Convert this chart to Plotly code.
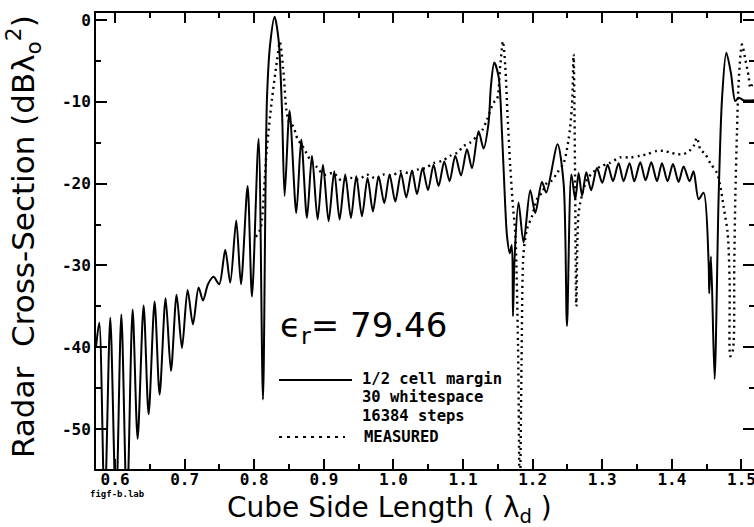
import plotly.graph_objects as go

# ---- data ----
sim_x = [0.5726, 0.5773, 0.5850, 0.5931, 0.6013, 0.6090, 0.6170, 0.6252, 0.6324, 0.6410,
         0.6482, 0.6568, 0.6640, 0.6726, 0.6803, 0.6884, 0.6961, 0.7042, 0.7119, 0.7200,
         0.7263, 0.7335, 0.7415, 0.7497, 0.7583, 0.7655, 0.7741, 0.7809, 0.7904, 0.7967,
         0.8062, 0.8125, 0.8182, 0.8230, 0.8292, 0.8349, 0.8398, 0.8436, 0.8507, 0.8604,
         0.8675, 0.8757, 0.8829, 0.8910, 0.8987, 0.9068, 0.9149, 0.9226, 0.9307, 0.9389,
         0.9466, 0.9547, 0.9628, 0.9705, 0.9786, 0.9868, 0.9944, 1.0026, 1.0108, 1.0184,
         1.0266, 1.0338, 1.0418, 1.0496, 1.0576, 1.0648, 1.0730, 1.0806, 1.0888, 1.0970,
         1.1056, 1.1128, 1.1223, 1.1294, 1.1366, 1.1400, 1.1448, 1.1510, 1.1559, 1.1606,
         1.1631, 1.1670, 1.1700, 1.1717, 1.1740, 1.1797, 1.1869, 1.1965, 1.2037, 1.2133,
         1.2195, 1.2358, 1.2445, 1.2493, 1.2556, 1.2612, 1.2660, 1.2710, 1.2770, 1.2840,
         1.2924, 1.3000, 1.3077, 1.3154, 1.3234, 1.3306, 1.3392, 1.3460, 1.3546, 1.3622,
         1.3704, 1.3786, 1.3858, 1.3938, 1.4016, 1.4096, 1.4168, 1.4254, 1.4312, 1.4384,
         1.4456, 1.4528, 1.4537, 1.4562, 1.4614, 1.4671, 1.4720, 1.4782, 1.4849, 1.4911,
         1.4959, 1.5030, 1.5190]
sim_y = [-40.0, -37.0, -60.0, -36.4, -60.0, -36.0, -60.0, -35.4, -51.2, -34.9,
         -48.2, -34.4, -45.8, -34.0, -42.9, -33.6, -40.1, -33.0, -37.2, -32.7,
         -34.3, -32.3, -31.4, -32.3, -28.1, -32.1, -24.5, -32.3, -20.3, -33.8,
         -14.5, -46.4, -9.7, -2.8, 0.4, -2.4, -10.9, -21.5, -11.1, -23.6,
         -14.6, -24.2, -16.6, -24.4, -17.7, -24.6, -18.5, -24.4, -18.9, -24.2,
         -19.1, -24.0, -19.3, -23.4, -19.1, -22.4, -18.9, -22.2, -18.7, -21.7,
         -18.4, -21.3, -18.1, -20.8, -17.7, -20.3, -17.3, -19.7, -16.6, -19.0,
         -15.8, -18.1, -13.6, -15.7, -12.6, -8.1, -5.2, -6.9, -13.8, -22.8,
         -26.4, -28.5, -27.5, -36.2, -29.0, -22.3, -27.2, -20.8, -23.6, -19.8,
         -21.1, -15.2, -20.0, -37.4, -18.9, -21.9, -18.7, -21.5, -18.6, -20.8,
         -18.1, -19.9, -17.7, -19.7, -17.5, -19.7, -17.5, -19.7, -17.4, -19.6,
         -17.4, -19.7, -17.5, -19.7, -17.6, -19.8, -17.9, -19.7, -18.5, -21.9,
         -21.1, -29.7, -33.4, -28.9, -43.9, -21.9, -9.7, -4.0, -6.5, -9.9,
         -9.5, -9.8, -9.8]

meas_x = [0.8020, 0.8086, 0.8110, 0.8180, 0.8254, 0.8326, 0.8368, 0.8421, 0.8460, 0.8500,
          0.8560, 0.8620, 0.8700, 0.8805, 0.8900, 0.9000, 0.9140, 0.9250, 0.9380, 0.9500,
          0.9620, 0.9750, 0.9855, 0.9980, 1.0098, 1.0220, 1.0338, 1.0460, 1.0576, 1.0700,
          1.0816, 1.0920, 1.1007, 1.1100, 1.1200, 1.1280, 1.1343, 1.1440, 1.1487, 1.1534,
          1.1573, 1.1606, 1.1640, 1.1678, 1.1717, 1.1750, 1.1790, 1.1815, 1.1840, 1.1869,
          1.1920, 1.1990, 1.2062, 1.2140, 1.2205, 1.2280, 1.2349, 1.2444, 1.2516, 1.2565,
          1.2588, 1.2610, 1.2627, 1.2660, 1.2720, 1.2780, 1.2870, 1.2971, 1.3100, 1.3258,
          1.3400, 1.3546, 1.3642, 1.3786, 1.3880, 1.3977, 1.4080, 1.4168, 1.4250, 1.4312,
          1.4360, 1.4408, 1.4480, 1.4552, 1.4648, 1.4696, 1.4743, 1.4801, 1.4830, 1.4840,
          1.4878, 1.4896, 1.4911, 1.4935, 1.4959, 1.5007, 1.5055, 1.5103, 1.5127, 1.5170]
meas_y = [-26.5, -25.6, -24.4, -15.8, -9.7, -5.0, -2.7, -6.5, -10.9, -12.5,
          -13.0, -14.5, -15.5, -17.1, -18.0, -18.9, -18.7, -19.6, -19.3, -19.5,
          -18.9, -19.4, -18.9, -19.0, -18.5, -18.7, -18.3, -18.1, -17.5, -17.2,
          -16.6, -16.2, -15.4, -15.0, -14.2, -13.4, -12.2, -10.1, -9.7, -5.6,
          -2.6, -5.6, -11.8, -17.9, -22.8, -26.0, -40.0, -60.0, -42.0, -28.5,
          -25.5, -24.0, -21.9, -21.0, -19.9, -19.6, -18.7, -17.5, -14.6, -10.5,
          -4.2, -20.0, -35.0, -23.6, -21.0, -19.5, -18.6, -17.9, -17.5, -16.8,
          -16.8, -16.6, -16.4, -16.0, -16.0, -16.2, -16.4, -16.4, -16.0, -15.4,
          -14.4, -15.8, -16.4, -17.5, -18.7, -20.3, -22.8, -26.0, -32.1, -41.1,
          -40.3, -30.1, -21.9, -13.8, -7.7, -3.0, -4.8, -6.9, -8.3, -7.5]

x_ticks = [0.6, 0.7, 0.8, 0.9, 1.0, 1.1, 1.2, 1.3, 1.4, 1.5]
x_ticktext = ["0.6", "0.7", "0.8", "0.9", "1.0", "1.1", "1.2", "1.3", "1.4", "1.5"]
y_ticks = [0, -10, -20, -30, -40, -50]
y_ticktext = ["0", "-10", "-20", "-30", "-40", "-50"]

W, H = 754, 527
ML, MR, MT, MB = 96, 0, 13, 58
PW, PH = W - ML - MR, H - MT - MB


def px(xp):
    return (xp - ML) / PW


def py(yp):
    return (H - MB - yp) / PH


tickfont = dict(family="DejaVu Sans Mono", size=16, color="black", weight="bold")

fig = go.Figure()
fig.add_trace(go.Scatter(x=sim_x, y=sim_y, mode="lines",
                         line=dict(color="black", width=2, shape="spline", smoothing=0.8),
                         showlegend=False))
fig.add_trace(go.Scatter(x=meas_x, y=meas_y, mode="lines",
                         line=dict(color="black", width=2.4, dash="2px,4px", shape="spline", smoothing=0.8),
                         showlegend=False))

fig.update_layout(
    width=W, height=H,
    margin=dict(l=ML, r=MR, t=MT, b=MB, autoexpand=False),
    paper_bgcolor="white", plot_bgcolor="white",
    showlegend=False,
    xaxis=dict(range=[0.5726, 0.5726 + PW / 696.0], showgrid=False, zeroline=False,
               showline=True, linecolor="black", linewidth=2, mirror="ticks",
               ticks="inside", ticklen=10, tickwidth=2, tickcolor="black",
               tickvals=x_ticks, ticktext=x_ticktext, tickfont=tickfont,
               ticklabeloverflow="allow", ticklabelstandoff=-5,
               minor=dict(ticks="inside", ticklen=5, tickwidth=2, tickcolor="black", dtick=0.05, showgrid=False)),
    yaxis=dict(range=[-54.89, 0.86], showgrid=False, zeroline=False,
               showline=True, linecolor="black", linewidth=2, mirror="ticks",
               ticks="inside", ticklen=11, tickwidth=2, tickcolor="black",
               tickvals=y_ticks, ticktext=y_ticktext, tickfont=tickfont,
               ticklabeloverflow="allow",
               minor=dict(ticks="inside", ticklen=5, tickwidth=2, tickcolor="black", dtick=5, showgrid=False)),
)

ann = []
ann.append(dict(text="Radar  Cross-Section (dBλ<sub>o</sub><sup>2</sup>)", xref="paper", yref="paper",
                x=px(23), y=py(237), xanchor="center", yanchor="middle", textangle=-90, showarrow=False,
                font=dict(family="DejaVu Sans", size=31, color="black")))
ann.append(dict(text="Cube Side Length ( λ<sub>d</sub> )", xref="paper", yref="paper",
                x=px(389), y=py(509), xanchor="center", yanchor="middle", showarrow=False,
                font=dict(family="DejaVu Sans", size=28, color="black")))
ann.append(dict(text="figf-b.lab", xref="paper", yref="paper",
                x=px(117), y=py(494), xanchor="center", yanchor="middle", showarrow=False,
                font=dict(family="DejaVu Sans Mono", size=9, color="black", weight="bold")))
ann.append(dict(text="ϵ<sub>r</sub>= 79.46", xref="paper", yref="paper",
                x=px(278), y=py(327), xanchor="left", yanchor="middle", showarrow=False,
                font=dict(family="DejaVu Sans", size=34, color="black")))
legfont = dict(family="DejaVu Sans Mono", size=15.5, color="black", weight="bold")
for txt, xx, yy in [("1/2 cell margin", 360, 379), ("30 whitespace", 360, 397),
                    ("16384 steps", 360, 416), ("MEASURED", 362, 437)]:
    ann.append(dict(text=txt, xref="paper", yref="paper", x=px(xx), y=py(yy),
                    xanchor="left", yanchor="middle", showarrow=False, font=legfont))
fig.update_layout(annotations=ann)

fig.add_shape(type="line", xref="paper", yref="paper", x0=px(279), x1=px(352), y0=py(380), y1=py(380),
              line=dict(color="black", width=2))
fig.add_shape(type="line", xref="paper", yref="paper", x0=px(279), x1=px(345), y0=py(437), y1=py(437),
              line=dict(color="black", width=2, dash="3px,5px"))

fig.write_html("out.html", config={"displayModeBar": False},
               post_script="document.body.style.margin='0px';document.body.style.overflow='hidden';")
